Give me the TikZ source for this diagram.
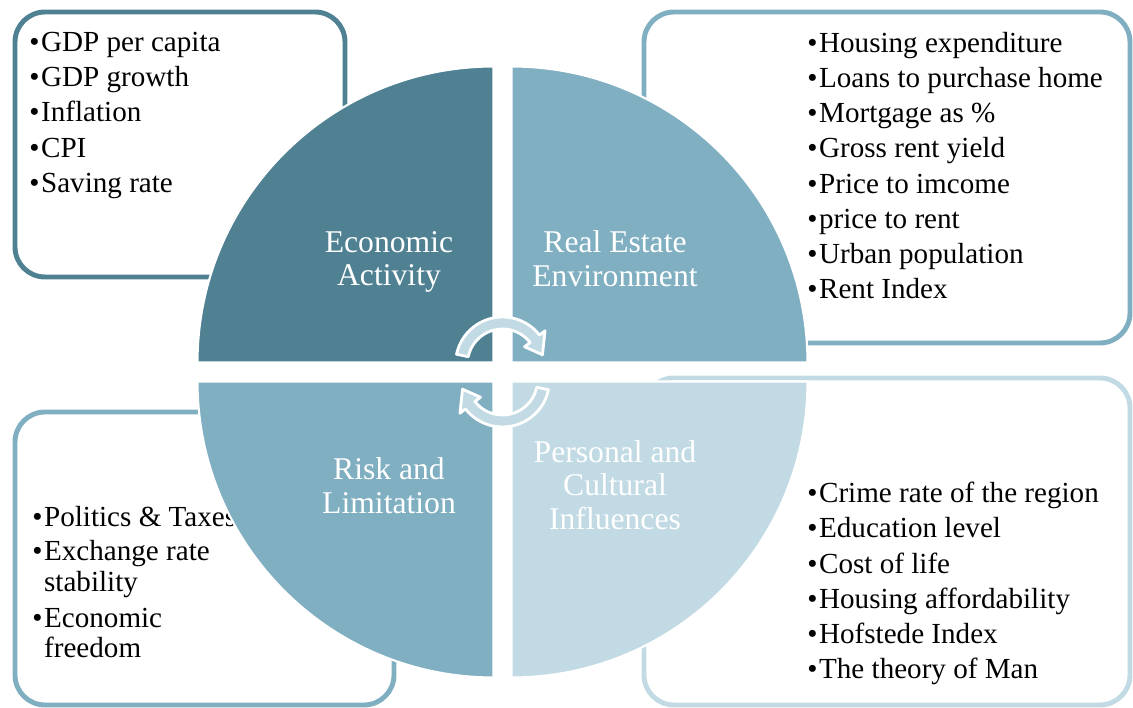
\documentclass[tikz,border=0pt]{standalone}
\usepackage{fontspec}
\setmainfont{Liberation Serif}
\definecolor{tealdark}{HTML}{4F8193}
\definecolor{tealmid}{HTML}{80AFC2}
\definecolor{teallight}{HTML}{C1DAE3}
\newcommand{\itm}{\textbullet\kern1.2pt}

\begin{document}
\begin{tikzpicture}[x=0.025cm,y=0.025cm,
listbox/.style={line width=3.5pt,rounded corners=0.75cm,fill=white},
quarter/.style={draw=white,line width=1.5pt},
sectlabel/.style={text=white,align=center,inner sep=0pt,font=\fontsize{22.5}{24}\selectfont},
itemlist/.style={anchor=north west,align=left,inner sep=0pt,font=\fontsize{20.7}{25}\selectfont},
cyclearrow/.style={fill=teallight,draw=white,line width=2pt,line join=round}]

\useasboundingbox (0,0) rectangle (1133,708);

% boxes with the indicator lists
\draw[listbox,draw=tealdark] (15,696) rectangle (345,431);
\draw[listbox,draw=tealmid] (644,696) rectangle (1130,365);
\draw[listbox,draw=tealmid] (15,296) rectangle (394,3);
\draw[listbox,draw=teallight] (644,330) rectangle (1130,3);

\draw (29,676) node[itemlist] (econlist) {\itm GDP per capita\\
  \itm GDP growth\\ \itm Inflation\\ \itm CPI\\ \itm Saving rate};
\draw (807,676) node[itemlist] (estatelist) {\itm Housing expenditure\\
  \itm Loans to purchase home\\ \itm Mortgage as \%\\
  \itm Gross rent yield\\ \itm Price to imcome\\ \itm price to rent\\
  \itm Urban population\\ \itm Rent Index};
\draw (32,202) node[itemlist] (risklist) {\itm Politics \& Taxes\\[-1pt]
  \itm Exchange rate\\[-3pt] \hphantom{\itm}stability\\[0.5pt]
  \itm Economic\\[-3.5pt] \hphantom{\itm}freedom};
\draw (807,226) node[itemlist] (culturelist) {\itm Crime rate of the region\\
  \itm Education level\\ \itm Cost of life\\
  \itm Housing affordability\\ \itm Hofstede Index\\ \itm The theory of Man};

% the four quarters of the circle
\filldraw[quarter,fill=tealdark] (493.5,345.5) -- (197.5,345.5) arc[start angle=180,end angle=90,radius=296] -- cycle;
\filldraw[quarter,fill=tealmid] (511.5,345.5) -- (511.5,641.5) arc[start angle=90,end angle=0,radius=296] -- cycle;
\filldraw[quarter,fill=tealmid] (493.5,326.5) -- (493.5,30.5) arc[start angle=270,end angle=180,radius=296] -- cycle;
\filldraw[quarter,fill=teallight] (511.5,326.5) -- (807.5,326.5) arc[start angle=0,end angle=-90,radius=296] -- cycle;

\draw (389,446) node[sectlabel] (econ) {Economic\\Activity};
\draw (615,449) node[sectlabel] (estate) {Real Estate\\Environment};
\draw (389,222) node[sectlabel] (risk) {Risk and\\Limitation};
\draw (615,223) node[sectlabel] (culture) {Personal and\\Cultural\\Influences};

% circular arrows in the middle
\filldraw[cyclearrow,shift={(502.5,344)}] (168:47) arc[start angle=168,end angle=38,radius=47]
  -- (38:54) -- (13:41) -- (38:28) -- (38:35) arc[start angle=38,end angle=168,radius=35] -- cycle;
\filldraw[cyclearrow,shift={(502.5,328)}] (348:47) arc[start angle=348,end angle=218,radius=47]
  -- (218:54) -- (193:41) -- (218:28) -- (218:35) arc[start angle=218,end angle=348,radius=35] -- cycle;

\end{tikzpicture}
\end{document}
